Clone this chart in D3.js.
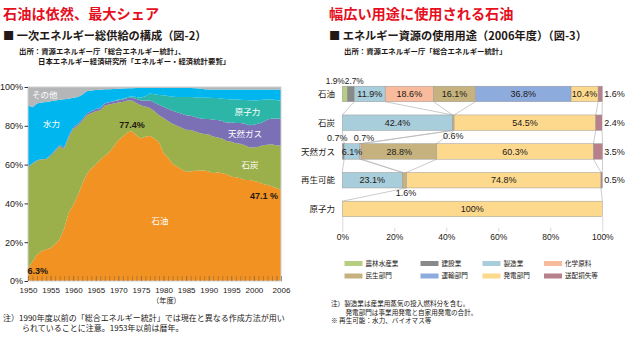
<!DOCTYPE html>
<html>
<head>
<meta charset="utf-8">
<script src="https://cdn.jsdelivr.net/npm/d3@7"></script>
<style>
  body { margin: 0; background: #fff; }
  svg { display: block; }
</style>
</head>
<body>
<script>
// ---- left chart data: primary energy supply shares (%) ----
const years = [1950,1951,1952,1953,1954,1955,1956,1957,1958,1959,1960,1961,1962,1963,1964,1965,1966,1967,1968,1969,1970,1971,1972,1973,1974,1975,1976,1977,1978,1979,1980,1981,1982,1983,1984,1985,1986,1987,1988,1989,1990,1991,1992,1993,1994,1995,1996,1997,1998,1999,2000,2001,2002,2003,2004,2005,2006]
const oil = [6.3,10.0,13.5,15.5,16.2,17.0,19.0,21.5,27.0,35.0,39.0,44.0,50.0,55.0,58.0,60.0,62.5,64.5,66.5,69.5,72.5,74.5,76.5,77.4,75.0,73.5,74.5,74.7,73.4,71.5,66.0,63.5,60.5,59.0,57.5,56.3,56.5,56.8,57.0,57.0,56.5,55.5,56.0,55.5,55.0,53.8,53.5,53.0,52.1,52.0,51.5,51.0,50.0,49.5,48.8,47.8,47.1]
const coal = [52.5,50.5,48.5,47.2,46.5,47.5,48.0,48.0,41.2,39.0,39.5,36.0,32.5,30.5,28.5,27.5,25.5,26.0,24.5,22.0,19.5,17.8,16.5,15.6,16.8,17.0,15.5,14.5,14.1,14.0,18.0,19.0,20.5,21.0,21.5,21.7,21.3,20.2,19.3,18.8,19.0,19.0,18.0,18.0,17.2,18.0,17.5,17.8,17.9,17.0,17.3,18.2,20.0,20.7,21.7,22.0,22.7]
const gas = [0.2,0.2,0.2,0.2,0.2,0.4,0.5,0.6,0.6,0.7,0.8,0.8,0.9,0.9,1.0,1.1,1.1,1.1,1.1,1.1,1.2,1.2,1.3,1.5,2.0,2.5,3.0,3.8,4.5,5.2,5.8,6.3,6.8,7.0,7.2,7.4,7.4,7.5,7.6,7.7,8.0,8.6,9.0,9.0,9.4,10.0,10.4,10.6,11.0,11.3,11.8,11.8,11.8,13.1,13.3,13.8,13.9]
const nuclear = [0,0,0,0,0,0,0,0,0,0,0,0,0,0,0,0,0.1,0.1,0.1,0.2,0.3,0.5,0.6,0.6,1.0,1.5,2.2,3.6,4.2,5.2,5.9,6.5,7.2,7.8,8.6,9.4,9.6,10.2,10.6,11.0,10.9,11.2,11.3,11.5,12.2,11.8,12.1,12.0,12.3,12.9,12.5,12.2,11.6,10.3,9.9,9.6,9.4]
const hydro = [31.6,28.8,29.3,29.1,29.4,27.7,25.5,23.3,24.9,19.3,15.1,14.0,12.6,11.4,10.7,9.8,9.4,7.1,6.7,6.2,5.6,5.2,4.4,4.3,4.7,5.0,4.3,2.9,3.3,3.6,3.8,4.2,4.5,4.7,4.7,4.7,4.7,4.7,4.7,4.3,4.3,4.4,4.4,4.7,4.9,5.1,5.2,5.3,5.4,5.5,5.6,5.5,5.3,5.1,5.0,5.5,5.6]
const other = [9.4,10.5,8.5,8.0,7.7,7.4,7.0,6.6,6.3,6.0,5.6,5.2,4.0,2.2,1.8,1.6,1.4,1.2,1.1,1.0,0.9,0.8,0.7,0.6,0.5,0.5,0.5,0.5,0.5,0.5,0.5,0.5,0.5,0.5,0.5,0.5,0.5,0.6,0.8,1.2,1.3,1.3,1.3,1.3,1.3,1.3,1.3,1.3,1.3,1.3,1.3,1.3,1.3,1.3,1.3,1.3,1.3]
const sourceNames = ["石油","石炭","天然ガス","原子力","水力","その他"]
const sourceColors = ["#f29223","#9baf4a","#7b6fb5","#2bb6a8","#00b6ee","#b5b6b8"]
const yTicks = [0,20,40,60,80,100]
const yearLabels = [1950,1955,1960,1965,1970,1975,1980,1985,1990,1995,2000,2006]

// ---- right chart data: uses of each resource, 2006 (%) ----
const uses = ["農林水産業","建設業","製造業","化学原料","民生部門","運輸部門","発電部門","送配損失等"]
const useColors = ["#b7ce82","#878a89","#a8cddb","#f8bb9b","#c5b27e","#8eabdd","#fdd98e","#b7808a"]
const resources = ["石油","石炭","天然ガス","再生可能","原子力"]
const oilUse = [1.9,2.7,11.9,18.6,16.1,36.8,10.4,1.6]
const coalUse = [0,0,42.4,0,0.6,0,54.5,2.4]
const gasUse = [0,0.7,6.1,0.7,28.8,0,60.3,3.5]
const renewUse = [0,0,23.1,0,1.6,0,74.8,0.5]
const nuclearUse = [0,0,0,0,0,0,100,0]
const pctTicks = [0,20,40,60,80,100]

const JP = "'Noto Sans CJK JP', 'Noto Sans', sans-serif"
const NUM = "'Liberation Sans', Arial, sans-serif"

const svg = d3.select("body").append("svg")
  .attr("width", 628)
  .attr("height", 339)

// titles
function txt(x, y, s, size, opts = {}) {
  return svg.append("text")
    .attr("x", x).attr("y", y).attr("dy", "0.36em")
    .attr("font-family", opts.font || JP)
    .attr("font-size", size + "px")
    .attr("font-weight", opts.weight || "normal")
    .attr("fill", opts.fill || "#231815")
    .attr("text-anchor", opts.anchor || "start")
    .text(s)
}
txt(3, 13.5, "石油は依然、最大シェア", 14.2, {weight: "bold", fill: "#e60f1e"})
txt(3, 36, "■ 一次エネルギー総供給の構成（図-2）", 11.2, {weight: "bold"})
txt(19, 51, "出所：資源エネルギー庁「総合エネルギー統計」、", 7.4, {weight: "bold"})
txt(38, 61, "日本エネルギー経済研究所「エネルギー・経済統計要覧」", 7.4, {weight: "bold"})

txt(329, 13.5, "幅広い用途に使用される石油", 14.2, {weight: "bold", fill: "#e60f1e"})
txt(329, 36, "■ エネルギー資源の使用用途（2006年度）（図-3）", 11.2, {weight: "bold"})
txt(344, 51.5, "出所：資源エネルギー庁「総合エネルギー統計」", 7.4, {weight: "bold"})

// ================= left: stacked area =================
const x = d3.scaleLinear().domain([1950, 2006]).range([28, 281])
const y = d3.scaleLinear().domain([0, 100]).range([281, 87])

const rowsL = years.map((yr, i) => ({
  year: yr, "石油": oil[i], "石炭": coal[i], "天然ガス": gas[i],
  "原子力": nuclear[i], "水力": hydro[i], "その他": other[i]
}))
const layersL = d3.stack().keys(sourceNames)(rowsL)

const area = d3.area()
  .x(d => x(d.data.year))
  .y0(d => y(d[0]))
  .y1(d => y(Math.min(d[1], 100)))

const gL = svg.append("g")
gL.selectAll("path.layer")
  .data(layersL)
  .enter().append("path")
  .attr("class", "layer")
  .attr("d", area)
  .attr("fill", (d, i) => sourceColors[i])

// frame
gL.append("rect")
  .attr("x", x(1950)).attr("y", y(100))
  .attr("width", x(2006) - x(1950)).attr("height", y(0) - y(100))
  .attr("fill", "none").attr("stroke", "#cfcfcf").attr("stroke-width", 1)

// yearly ticks along the bottom, inside the plot
const yearTicks = d3.axisBottom(x)
  .tickValues(years)
  .tickSize(-5)
  .tickFormat("")
gL.append("g")
  .attr("transform", `translate(0,${y(0)})`)
  .call(yearTicks)
  .call(g => g.select(".domain").remove())
  .call(g => g.selectAll("line")
    .attr("stroke", d => (d % 5 === 0 || d === 2006) ? "#555" : "#8a6a3a")
    .attr("stroke-width", 0.6))

// year labels
gL.append("g")
  .attr("transform", `translate(0,${y(0)})`)
  .call(d3.axisBottom(x).tickValues(yearLabels).tickSize(0).tickPadding(6).tickFormat(d3.format("d")))
  .call(g => g.select(".domain").remove())
  .call(g => g.selectAll("text").attr("font-family", NUM).attr("font-size", "8px").attr("fill", "#231815"))

txt(152, 300, "（年度）", 7.2)

// y axis
gL.append("g")
  .attr("transform", `translate(${x(1950)},0)`)
  .call(d3.axisLeft(y).tickValues(yTicks).tickSize(3.5).tickPadding(1.5).tickFormat(d => d + "%"))
  .call(g => g.select(".domain").remove())
  .call(g => g.selectAll("line").attr("stroke", "#333"))
  .call(g => g.selectAll("text").attr("font-family", NUM).attr("font-size", "9px").attr("fill", "#231815"))

// series labels
txt(32, 95, "その他", 8.5, {fill: "#fff"})
txt(43, 123.5, "水力", 8.5, {fill: "#fff"})
txt(247.5, 111.5, "原子力", 8.5, {fill: "#fff", anchor: "middle"})
txt(245, 134, "天然ガス", 8.5, {fill: "#fff", anchor: "middle"})
txt(250, 165, "石炭", 8.5, {fill: "#fff", anchor: "middle"})
txt(160, 220.5, "石油", 8.5, {fill: "#fff", anchor: "middle"})
txt(x(1973), 125, "77.4%", 9, {font: NUM, weight: "bold", anchor: "middle"})
txt(x(2006) - 3, 196, "47.1 %", 9, {font: NUM, weight: "bold", anchor: "end"})
txt(x(1950) - 0.5, 271, "6.3%", 9, {font: NUM, weight: "bold"})

txt(3, 318.5, "注）1990年度以前の「総合エネルギー統計」では現在と異なる作成方法が用い", 8)
txt(22, 328.5, "られていることに注意。1953年以前は暦年。", 8)

// ================= right: 100% bars =================
const xr = d3.scaleLinear().domain([0, 100]).range([342.3, 602.3])
const yr = d3.scaleBand().domain(resources).range([86.2, 216.7]).paddingInner(0.46).paddingOuter(0)

const useTable = [oilUse, coalUse, gasUse, renewUse, nuclearUse]
const rowsR = resources.map((r, i) => {
  const o = {resource: r}
  uses.forEach((u, j) => { o[u] = useTable[i][j] })
  return o
})
const layersR = d3.stack().keys(uses)(rowsR)
const seg = (r, u) => layersR[uses.indexOf(u)][resources.indexOf(r)]

const gR = svg.append("g")

// axis ticks
gR.append("g")
  .attr("transform", `translate(0,${yr("原子力") + yr.bandwidth()})`)
  .call(d3.axisBottom(xr).tickValues(pctTicks).tickSize(15).tickPadding(2).tickFormat(d => d + "%"))
  .call(g => g.select(".domain").remove())
  .call(g => g.selectAll("line").attr("stroke", "#c8c8c8").attr("stroke-width", 0.7)
    .attr("y1", d => (d === 0 || d === 100) ? 0 : 11))
  .call(g => g.selectAll("text").attr("font-family", NUM).attr("font-size", "8.5px").attr("fill", "#231815"))

// connector lines between consecutive bars
const links = [
  ["石油", "石炭", ["製造業", "民生部門", "送配損失等"]],
  ["石炭", "天然ガス", ["製造業", "民生部門", "送配損失等"]],
  ["天然ガス", "再生可能", ["製造業", "民生部門", "送配損失等"]],
  ["再生可能", "原子力", ["発電部門"]]
]
links.forEach(([a, b, cats]) => {
  cats.forEach(c => {
    const sa = seg(a, c), sb = seg(b, c)
    ;[0, 1].forEach(k => {
      gR.append("line")
        .attr("x1", xr(sa[k])).attr("y1", yr(a) + yr.bandwidth())
        .attr("x2", xr(sb[k])).attr("y2", yr(b))
        .attr("stroke", "#b4b4b4").attr("stroke-width", 0.7)
    })
  })
})

layersR.forEach((layer, li) => {
  gR.selectAll(null)
    .data(layer.filter(d => d[1] - d[0] > 0))
    .enter().append("rect")
    .attr("x", d => xr(d[0]))
    .attr("y", d => yr(d.data.resource))
    .attr("width", d => xr(d[1]) - xr(d[0]))
    .attr("height", yr.bandwidth())
    .attr("fill", useColors[li])
    .attr("stroke", "#9a9a9a")
    .attr("stroke-width", 0.5)
})

// value labels
const fmt = v => v + "%"
const outside = {
  "石油|農林水産業": ["top", -9.5],
  "石油|建設業": ["top", 3.5],
  "石炭|民生部門": ["bottom", 0],
  "天然ガス|建設業": ["top", -6],
  "天然ガス|化学原料": ["top", 3],
  "再生可能|民生部門": ["bottom", 1.5]
}
layersR.forEach((layer, li) => {
  layer.forEach(d => {
    const v = d[1] - d[0]
    if (v <= 0) return
    const r = d.data.resource, u = uses[li]
    const cx = (xr(d[0]) + xr(d[1])) / 2
    const top = yr(r), bot = yr(r) + yr.bandwidth(), mid = top + yr.bandwidth() / 2
    const val = Math.round(v * 10) / 10
    const label = val === 100 ? "100%" : fmt(val.toFixed(1))
    const key = r + "|" + u
    if (u === "送配損失等") {
      txt(xr(100) + 2, mid, label, 9, {font: NUM})
    } else if (outside[key]) {
      const [pos, dx] = outside[key]
      const size = r === "石油" ? 8.3 : 9
      txt(cx + dx, pos === "top" ? top - 5.5 : bot + 5, label, size, {font: NUM, anchor: "middle"})
    } else {
      txt(cx, mid, label, 9, {font: NUM, anchor: "middle"})
    }
  })
})

// category labels
resources.forEach(r => {
  txt(335, yr(r) + yr.bandwidth() / 2, r, 8.5, {anchor: "end"})
})

// legend
const legX = [344.5, 420.5, 482.5, 544]
const legY = [263.5, 276]
uses.forEach((u, i) => {
  const cx = legX[i % 4], cy = legY[Math.floor(i / 4)]
  svg.append("rect")
    .attr("x", cx).attr("y", cy - 2.5)
    .attr("width", 18).attr("height", 5)
    .attr("fill", useColors[i])
  txt(cx + 21, cy, u, 6.6)
})

txt(331, 303.5, "注）製造業は産業用蒸気の投入燃料分を含む。", 6.6)
txt(345.5, 312.5, "発電部門は事業用発電と自家用発電の合計。", 6.6)
txt(331, 321, "※ 再生可能：水力、バイオマス等", 6.6)
</script>
</body>
</html>
